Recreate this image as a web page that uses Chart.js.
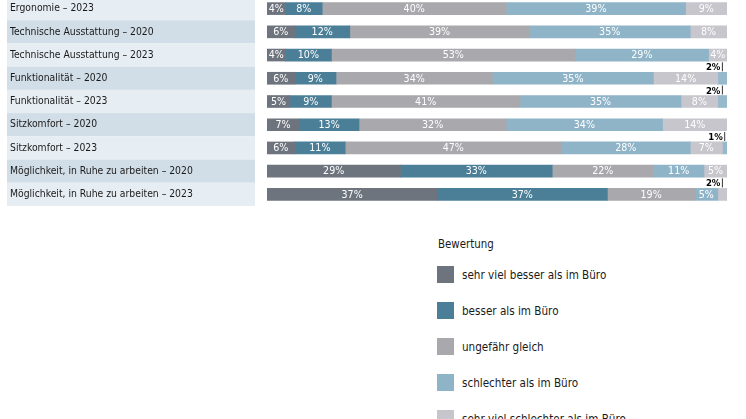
<!DOCTYPE html>
<html><head><meta charset="utf-8">
<script src="https://cdn.jsdelivr.net/npm/chart.js@4.4.0/dist/chart.umd.min.js"></script>
<style>
html,body{margin:0;padding:0;width:746px;height:419px;overflow:hidden;background:#fff;}
body{font-family:'DejaVu Sans Condensed','DejaVu Sans',sans-serif;color:#1a1a1a;}
#wrap{position:absolute;left:0;top:-3px;width:746px;height:209px;}
#legend{position:absolute;left:437px;top:235px;font-size:11.6px;}
#legend .title{margin-left:1px;height:18px;line-height:18px;margin-bottom:13px;font-size:11.4px;}
#legend .item{display:flex;align-items:center;height:17px;margin-bottom:19px;}
#legend .box{width:17px;height:17px;margin-right:8px;flex:none;}
</style></head>
<body>
<div id="wrap"><canvas id="c"></canvas></div>
<div id="legend"></div>
<script>
const categories = [
  'Ergonomie – 2023',
  'Technische Ausstattung – 2020',
  'Technische Ausstattung – 2023',
  'Funktionalität – 2020',
  'Funktionalität – 2023',
  'Sitzkomfort – 2020',
  'Sitzkomfort – 2023',
  'Möglichkeit, in Ruhe zu arbeiten – 2020',
  'Möglichkeit, in Ruhe zu arbeiten – 2023'
];
const seriesNames = ['sehr viel besser als im Büro','besser als im Büro','ungefähr gleich','schlechter als im Büro','sehr viel schlechter als im Büro','keine Angabe'];
const sehrVielBesser     = [4, 6, 4, 6, 5, 7, 6, 29, 37];
const besser             = [8, 12, 10, 9, 9, 13, 11, 33, 37];
const ungefaehrGleich    = [40, 39, 53, 34, 41, 32, 47, 22, 19];
const schlechter         = [39, 35, 29, 35, 35, 34, 28, 11, 5];
const sehrVielSchlechter = [9, 8, 4, 14, 8, 14, 7, 5, 2];
const keineAngabe        = [0, 0, 0, 2, 2, 0, 1, 0, 0];
const legendTitle = 'Bewertung';

const colors = ['#6e747e','#4b7f98','#a9a9ad','#8fb4c8','#c6c6cc','#96b9cc'];
const values = [sehrVielBesser, besser, ungefaehrGleich, schlechter, sehrVielSchlechter, keineAngabe];

const FONT = "'DejaVu Sans Condensed','DejaVu Sans',sans-serif";

const bandPlugin = {
  id: 'bands',
  beforeDraw(chart) {
    const ctx = chart.ctx, y = chart.scales.y, area = chart.chartArea;
    const n = chart.data.labels.length;
    const h = (area.bottom - area.top) / n;
    ctx.save();
    for (let i = 0; i < n; i++) {
      const yc = y.getPixelForValue(i);
      ctx.fillStyle = i % 2 === 0 ? '#e6edf3' : '#d1dee7';
      ctx.fillRect(7, yc - h / 2, 248, h);
    }
    ctx.restore();
  }
};

const labelPlugin = {
  id: 'barLabels',
  afterDatasetsDraw(chart) {
    const ctx = chart.ctx;
    ctx.save();
    chart.data.datasets.forEach((ds, di) => {
      const meta = chart.getDatasetMeta(di);
      meta.data.forEach((bar, i) => {
        const v = ds.data[i];
        if (!v) return;
        const cx = (bar.x + bar.base) / 2;
        const txt = v + '%';
        if (v <= 2) {
          const top = bar.y - bar.height / 2;
          ctx.strokeStyle = '#000';
          ctx.lineWidth = 0.8;
          ctx.beginPath();
          ctx.moveTo(cx, top - 1);
          ctx.lineTo(cx, top - 10);
          ctx.stroke();
          ctx.fillStyle = '#000';
          ctx.font = 'bold 9.5px ' + FONT;
          ctx.textAlign = 'right';
          ctx.textBaseline = 'alphabetic';
          ctx.fillText(txt, cx - 2, top - 2);
        } else {
          ctx.fillStyle = '#ffffff';
          ctx.font = '10.6px ' + FONT;
          ctx.textAlign = 'center';
          ctx.textBaseline = 'middle';
          ctx.fillText(txt, cx, bar.y + 0.5);
        }
      });
    });
    ctx.restore();
  }
};

const chart = new Chart(document.getElementById('c'), {
  type: 'bar',
  data: {
    labels: categories,
    datasets: values.map((d, i) => ({
      label: seriesNames[i],
      data: d,
      backgroundColor: colors[i],
      borderWidth: 0,
      barThickness: 12
    }))
  },
  options: {
    indexAxis: 'y',
    responsive: true,
    maintainAspectRatio: false,
    animation: false,
    layout: { padding: { left: 10, right: 19, top: 0, bottom: 0 } },
    scales: {
      x: { stacked: true, min: 0, max: 100, display: false },
      y: {
        stacked: true,
        grid: { display: false },
        border: { display: false },
        afterFit(s) { s.width = 257; s.paddingTop = 0; s.paddingBottom = 0; },
        ticks: {
          crossAlign: 'far',
          padding: 0,
          color: '#1a1a1a',
          font: { family: FONT, size: 10.3 }
        }
      }
    },
    plugins: { legend: { display: false }, tooltip: { enabled: false } }
  },
  plugins: [bandPlugin, labelPlugin]
});

// HTML legend built from the datasets
const lg = document.getElementById('legend');
const t = document.createElement('div');
t.className = 'title'; t.textContent = legendTitle; lg.appendChild(t);
chart.data.datasets.forEach(ds => {
  const it = document.createElement('div'); it.className = 'item';
  const b = document.createElement('span'); b.className = 'box'; b.style.background = ds.backgroundColor;
  const s = document.createElement('span'); s.textContent = ds.label;
  it.appendChild(b); it.appendChild(s); lg.appendChild(it);
});
</script>
</body></html>
